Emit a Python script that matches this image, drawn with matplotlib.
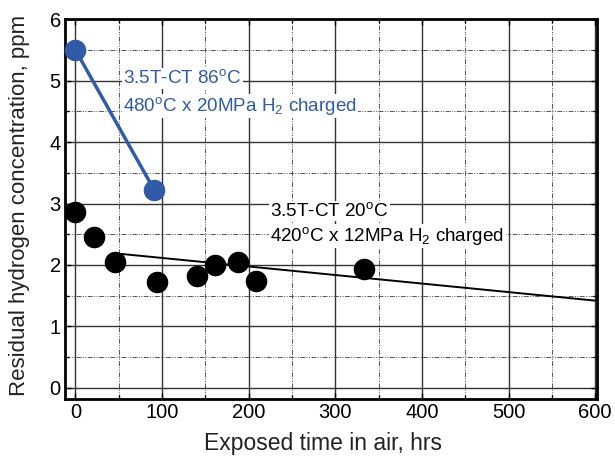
import matplotlib
matplotlib.use("Agg")
import matplotlib.pyplot as plt
from matplotlib.ticker import MultipleLocator

plt.rcParams['font.family'] = ['Liberation Sans', 'DejaVu Sans']
plt.rcParams['mathtext.fontset'] = 'custom'
plt.rcParams['mathtext.rm'] = 'Liberation Sans'
plt.rcParams['mathtext.it'] = 'Liberation Sans'

# Data
blue_x = [0, 91]
blue_y = [5.5, 3.22]
black_x = [0, 22, 46, 94, 140, 161, 188, 208, 333]
black_y = [2.86, 2.45, 2.05, 1.72, 1.82, 2.0, 2.05, 1.74, 1.93]
trend_x = [53, 600]
trend_y = [2.18, 1.42]

blue = '#2F5BA8'

fig = plt.figure(figsize=(6.15, 4.57), dpi=100)
ax = fig.add_axes([0.1057, 0.127, 0.865, 0.831])

ax.set_xlim(-12, 602)
ax.set_ylim(-0.18, 6)
ax.xaxis.set_major_locator(MultipleLocator(100))
ax.xaxis.set_minor_locator(MultipleLocator(50))
ax.yaxis.set_major_locator(MultipleLocator(1))
ax.yaxis.set_minor_locator(MultipleLocator(0.5))
ax.grid(which='major', color='#333333', linestyle='-', linewidth=1.0)
ax.grid(which='minor', color='#555555', linestyle=(0, (5, 1.5, 1, 1.5, 1, 1.5)), linewidth=0.7)
ax.set_axisbelow(True)
ax.tick_params(which='both', direction='in', top=True, right=True, labelsize=14.5, length=4, width=1, pad=3)
ax.tick_params(which='minor', length=3)
for s in ax.spines.values():
    s.set_linewidth(2)

ax.plot(trend_x, trend_y, color='black', linewidth=1.4, zorder=3)
ax.plot(black_x, black_y, 'o', color='black', markersize=14.5, zorder=4, clip_on=False)
ax.plot(blue_x, blue_y, '-', color=blue, linewidth=2.5, zorder=4)
ax.plot(blue_x, blue_y, 'o', color=blue, markersize=14.5, zorder=5, clip_on=False)

bbox = dict(facecolor='white', edgecolor='none', pad=1)
fs = 13.6
ax.text(55, 5.04, r'3.5T-CT 86$^{\rm o}$C', color=blue, fontsize=fs, va='center', ha='left', bbox=bbox, zorder=6)
ax.text(55, 4.59, r'480$^{\rm o}$C x 20MPa H$_{2}$ charged', color=blue, fontsize=fs, va='center', ha='left', bbox=bbox, zorder=6)
ax.text(225, 2.88, r'3.5T-CT 20$^{\rm o}$C', color='black', fontsize=fs, va='center', ha='left', bbox=bbox, zorder=6)
ax.text(225, 2.47, r'420$^{\rm o}$C x 12MPa H$_{2}$ charged', color='black', fontsize=fs, va='center', ha='left', bbox=bbox, zorder=6)

ax.set_xlabel('Exposed time in air, hrs', fontsize=16.5, color='#222222')
ax.set_ylabel('Residual hydrogen concentration, ppm', fontsize=16.0, color='#222222')
ax.xaxis.set_label_coords(0.485, -0.087)
ax.yaxis.set_label_coords(-0.066, 0.51)

fig.savefig('out.png', dpi=100)
